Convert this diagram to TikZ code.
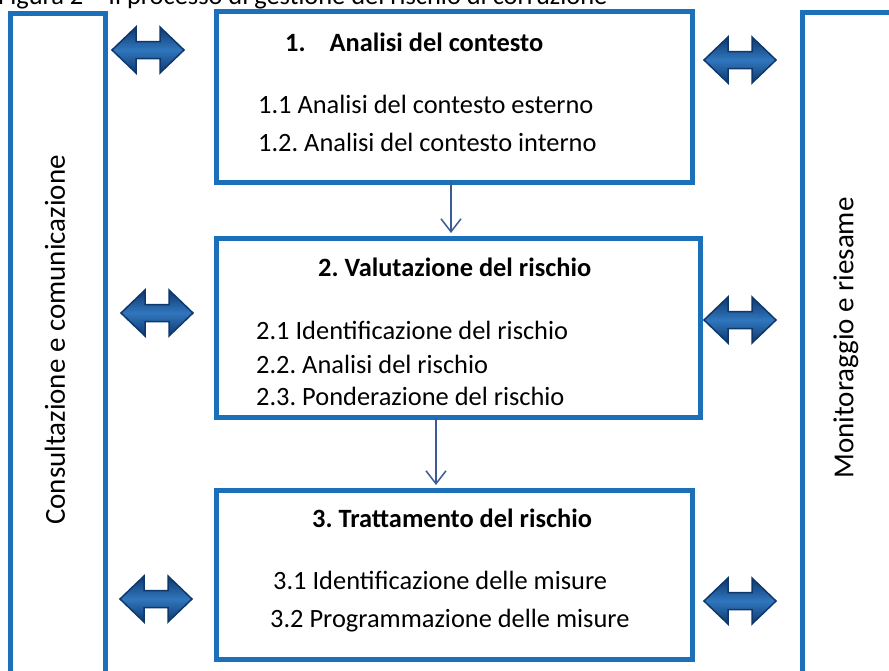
\documentclass[tikz,border=0pt]{standalone}
\usepackage{fontspec}
\setmainfont{Carlito}
\usetikzlibrary{arrows.meta,shadings}
\definecolor{boxblue}{RGB}{28,112,186}
\definecolor{arrdark}{RGB}{14,56,108}
\definecolor{arrmid}{RGB}{30,94,160}
\definecolor{arrlight}{RGB}{48,118,190}
\definecolor{linkblue}{RGB}{60,90,150}
\tikzset{
  x=1pt, y=-1pt,
  bluebox/.style={draw=boxblue, line width=5pt, fill=white, inner sep=0pt},
  bodytxt/.style={anchor=base west, inner sep=0pt, font=\fontsize{26.4}{30}\selectfont},
  titletxt/.style={anchor=base west, inner sep=0pt, font=\fontsize{26.4}{30}\selectfont\bfseries},
  sidetxt/.style={rotate=90, inner sep=0pt, font=\fontsize{29}{32}\selectfont},
  link/.style={draw=linkblue, line width=1.5pt, -{Straight Barb[length=13pt,width=20pt,line width=1.5pt]}},
  arrowfill/.style={draw=arrdark, line width=1.5pt, line join=miter, top color=arrdark, bottom color=arrdark, middle color=arrlight},
  dblarr/.pic={\path[arrowfill] (-36,0)--(-12,-23)--(-12,-8.5)--(12,-8.5)--(12,-23)--(36,0)--(12,23)--(12,8.5)--(-12,8.5)--(-12,23)--cycle;}
}
\begin{document}
\frenchspacing
\begin{tikzpicture}
\useasboundingbox[fill=white] (0,0) rectangle (889,670);
% caption (cut at top, as in the reference)
\node[bodytxt] (cap) at (-2,4) {Figura 2 -- Il processo di gestione del rischio di corruzione};
% side columns
\node[bluebox, minimum width=95pt, minimum height=700pt, anchor=north west] (left) at (8,11) {};
\node[bluebox, minimum width=120pt, minimum height=700pt, anchor=north west] (right) at (800,10) {};
\node[sidetxt] (lefttxt) at (55,340) {Consultazione e comunicazione};
\node[sidetxt] (righttxt) at (846,338) {Monitoraggio e riesame};
% main boxes
\node[bluebox, minimum width=476pt, minimum height=171pt, anchor=north west] (b1) at (214,9) {};
\node[bluebox, minimum width=484pt, minimum height=179pt, anchor=north west] (b2) at (214,236) {};
\node[bluebox, minimum width=476pt, minimum height=169pt, anchor=north west] (b3) at (214,488) {};
% texts
\node[titletxt] (t1) at (285,51) {1.\hspace{24pt}Analisi del contesto};
\node[bodytxt] (t11) at (258,113) {1.1 Analisi del contesto esterno};
\node[bodytxt] (t12) at (258,151) {1.2. Analisi del contesto interno};
\node[titletxt] (t2) at (318,276) {2. Valutazione del rischio};
\node[bodytxt] (t21) at (256,339) {2.1 Identificazione del rischio};
\node[bodytxt] (t22) at (256,373) {2.2. Analisi del rischio};
\node[bodytxt] (t23) at (256,405) {2.3. Ponderazione del rischio};
\node[titletxt] (t3) at (312,527) {3. Trattamento del rischio};
\node[bodytxt] (t31) at (273,589) {3.1 Identificazione delle misure};
\node[bodytxt] (t32) at (270,627) {3.2 Programmazione delle misure};
% links
\coordinate (l1s) at (451,182);
\coordinate (l1e) at (451,233);
\coordinate (l2s) at (436,418);
\coordinate (l2e) at (436,485);
\draw[link] (l1s) -- (l1e);
\draw[link] (l2s) -- (l2e);
% double arrows
\pic at (148,50) {dblarr};
\pic at (157,313) {dblarr};
\pic at (156,599) {dblarr};
\pic at (740,60) {dblarr};
\pic at (740,320) {dblarr};
\pic at (740,601) {dblarr};
\end{tikzpicture}
\end{document}
